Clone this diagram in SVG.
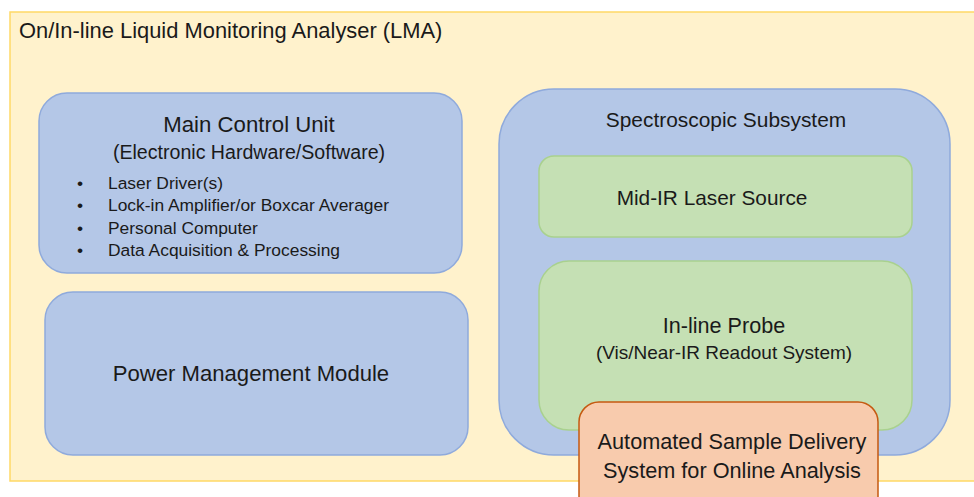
<svg xmlns="http://www.w3.org/2000/svg" width="974" height="497" viewBox="0 0 974 497">
<style>
text{font-family:"Liberation Sans","Open Sans",sans-serif;fill:#1a1a1a}
.blue{fill:#B4C7E7;stroke:#8FAADC;stroke-width:1.5}
.green{fill:#C5E0B4;stroke:#A9D18E;stroke-width:1.5}
.orange{fill:#F8CBAD;stroke:#C55A11;stroke-width:1.5}
.c{text-anchor:middle}
</style>
<rect width="974" height="497" fill="#ffffff"/>
<g id="lma">
<rect x="10" y="12" width="975" height="469" fill="#FFF2CC" stroke="#FFD966" stroke-width="1.5"/>
<text x="19" y="38" font-size="21.9">On/In-line Liquid Monitoring Analyser (LMA)</text>
</g>
<g id="main-control">
<rect class="blue" x="39" y="93" width="423" height="180" rx="28"/>
<text class="c" x="249" y="132" font-size="22.2">Main Control Unit</text>
<text class="c" x="249" y="159" font-size="19.6">(Electronic Hardware/Software)</text>
<g font-size="17.4">
<text x="77" y="189">•</text><text x="108" y="189">Laser Driver(s)</text>
<text x="77" y="211">•</text><text x="108" y="211">Lock-in Amplifier/or Boxcar Averager</text>
<text x="77" y="234">•</text><text x="108" y="234">Personal Computer</text>
<text x="77" y="256">•</text><text x="108" y="256">Data Acquisition &amp; Processing</text>
</g>
</g>
<g id="power">
<rect class="blue" x="45" y="292" width="423" height="163" rx="28"/>
<text class="c" x="251" y="381" font-size="22.1">Power Management Module</text>
</g>
<g id="spectroscopic">
<rect class="blue" x="499" y="89" width="451" height="366" rx="55"/>
<text class="c" x="726" y="127" font-size="20.9">Spectroscopic Subsystem</text>
</g>
<g id="midir">
<rect class="green" x="539" y="156" width="373" height="81" rx="15"/>
<text class="c" x="712" y="205" font-size="20.8">Mid-IR Laser Source</text>
</g>
<g id="probe">
<rect class="green" x="539" y="261" width="373" height="169" rx="30"/>
<text class="c" x="724" y="333" font-size="21.6">In-line Probe</text>
<text class="c" x="724" y="359" font-size="19">(Vis/Near-IR Readout System)</text>
</g>
<g id="sample-delivery">
<rect class="orange" x="579" y="402" width="299" height="120" rx="20"/>
<text class="c" x="732" y="449" font-size="21.7">Automated Sample Delivery</text>
<text class="c" x="732" y="478" font-size="21.7">System for Online Analysis</text>
</g>
<g id="connectors"></g>
</svg>
